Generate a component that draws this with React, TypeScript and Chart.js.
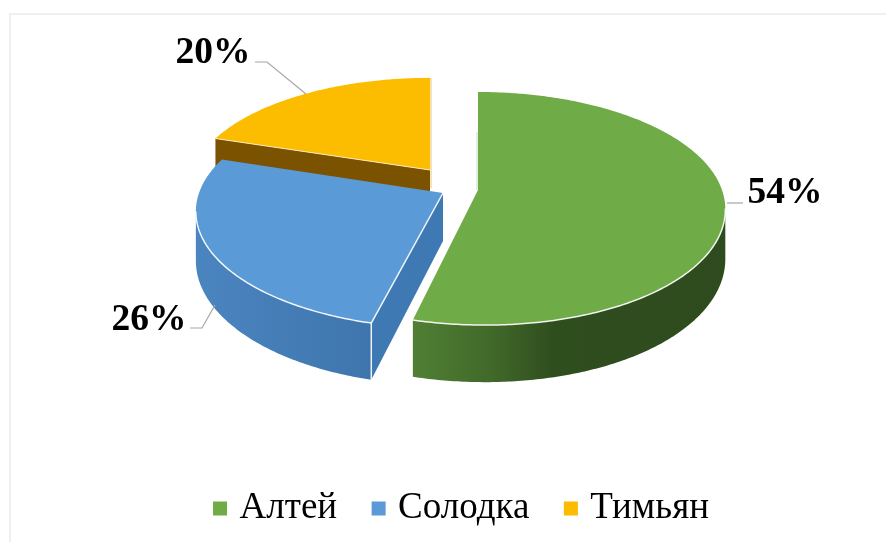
import React, { useEffect, useRef } from "react";
import { Chart, registerables } from "chart.js";

Chart.register(...registerables);

const categories = ["Алтей", "Солодка", "Тимьян"];
const shares = [54, 26, 20];
const topColors = ["#6fab47", "#5a9ad6", "#fcbc00"];

const FONT = '"Liberation Serif", "Times New Roman", serif';
const PERSPECTIVE = 0.159;
const RX = 244;
const RY = 113.6;
const DEPTH = 48;

// exploded slice placement on the page
const placement = [
  { ax: 478, ay: 190, sx: 1, sy: 1, skew: 7 },
  { ax: 443, ay: 193, sx: 1, sy: 1, skew: 0 },
  { ax: 430, ay: 170, sx: 0.97, sy: 0.94, skew: 0 },
];

const labelPlacement = [
  { x: 785, y: 203, line: [[727, 203], [743, 203]] },
  { x: 149, y: 330, line: [[190, 328], [202, 328], [215, 305]] },
  { x: 213, y: 63, line: [[255, 62], [267, 62], [306, 94]] },
];

type P = { x: number; y: number };

function project(i: number, u: number, v: number, z = 0): P {
  const p = placement[i];
  const w = 1 + PERSPECTIVE * v;
  const lean = v < 0 ? p.skew * v * v : 0;
  return {
    x: p.ax + (RX * p.sx * u) / w + lean,
    y: p.ay + (-RY * p.sy * v) / w + (z * DEPTH) / w,
  };
}

const rim = (i: number, t: number, z = 0) => project(i, Math.sin(t), Math.cos(t), z);

function trace(ctx: CanvasRenderingContext2D, pts: P[], close = true) {
  ctx.beginPath();
  pts.forEach((p, k) => (k ? ctx.lineTo(p.x, p.y) : ctx.moveTo(p.x, p.y)));
  if (close) ctx.closePath();
}

function sweep(a: number, b: number, i: number, z = 0) {
  const n = Math.max(2, Math.ceil((b - a) * 90));
  const out: P[] = [];
  for (let k = 0; k <= n; k++) out.push(rim(i, a + ((b - a) * k) / n, z));
  return out;
}

function wallStyle(ctx: CanvasRenderingContext2D, i: number): string | CanvasGradient {
  if (i === 0) {
    const g = ctx.createLinearGradient(413, 0, 725, 0);
    g.addColorStop(0, "#507f34");
    g.addColorStop(0.25, "#41692a");
    g.addColorStop(0.45, "#2f4e1e");
    g.addColorStop(1, "#2e4b1d");
    return g;
  }
  if (i === 1) {
    const g = ctx.createLinearGradient(196, 0, 372, 0);
    g.addColorStop(0, "#4b85c0");
    g.addColorStop(1, "#3e75ac");
    return g;
  }
  return "#7a5200";
}

const pie3d = {
  id: "pie3d",
  beforeDraw(chart: Chart) {
    const ctx = chart.ctx;
    ctx.save();
    ctx.strokeStyle = "#efefef";
    ctx.lineWidth = 2;
    ctx.beginPath();
    ctx.moveTo(10, 542);
    ctx.lineTo(10, 14);
    ctx.lineTo(886, 14);
    ctx.stroke();
    ctx.restore();
  },
  beforeDatasetDraw(chart: Chart) {
    const ctx = chart.ctx;
    const arcs = chart.getDatasetMeta(0).data as any[];
    const order = [2, 1, 0];
    ctx.save();
    ctx.lineJoin = "round";
    order.forEach((i) => {
      const a = arcs[i].startAngle + Math.PI / 2;
      const b = arcs[i].endAngle + Math.PI / 2;
      const apex = project(i, 0, 0);
      const apexLow = project(i, 0, 0, 1);

      // cut face that looks toward the viewer
      if (i !== 0) {
        const endTop = rim(i, a);
        const endLow = rim(i, a, 1);
        trace(ctx, [apex, endTop, endLow, apexLow]);
        ctx.fillStyle = i === 1 ? "#3f79b4" : "#7a5200";
        ctx.fill();
      }

      // outer wall: only the part of the rim facing the viewer
      const front = Math.PI - Math.acos(PERSPECTIVE);
      const s = Math.max(a, front);
      const e = Math.min(b, 2 * Math.PI - front);
      if (e > s) {
        const upper = sweep(s, e, i);
        const lower = sweep(s, e, i, 1).reverse();
        trace(ctx, [...upper, ...lower]);
        ctx.fillStyle = wallStyle(ctx, i);
        ctx.fill();
      }

      // top face
      trace(ctx, [apex, ...sweep(a, b, i)]);
      ctx.fillStyle = topColors[i];
      ctx.fill();

      // light edges
      ctx.strokeStyle = "rgba(255,255,255,0.9)";
      ctx.lineWidth = 1.5;
      if (e > s) {
        trace(ctx, sweep(s, e, i), false);
        ctx.stroke();
      }
      if (i === 1) {
        const c = rim(i, a);
        const d = rim(i, a, 1);
        trace(ctx, [apex, c, d], false);
        ctx.stroke();
      }
      if (i === 2) {
        const c = rim(i, a);
        trace(ctx, [apex, c], false);
        ctx.strokeStyle = "rgba(255,240,200,0.9)";
        ctx.lineWidth = 1;
        ctx.stroke();
        const t = rim(i, b);
        ctx.strokeStyle = "#e7c878";
        trace(ctx, [{ x: t.x + 1, y: t.y }, { x: apex.x + 1, y: apex.y + 18 }], false);
        ctx.stroke();
      }
      if (i === 0) {
        const t = rim(i, a);
        ctx.strokeStyle = "#cfd8c0";
        ctx.lineWidth = 1;
        trace(ctx, [{ x: t.x - 1, y: t.y + 40 }, { x: apex.x - 1, y: apex.y }], false);
        ctx.stroke();
      }
    });
    ctx.restore();
    return false;
  },
  afterDatasetsDraw(chart: Chart) {
    const ctx = chart.ctx;
    ctx.save();
    shares.forEach((v, i) => {
      const l = labelPlacement[i];
      ctx.strokeStyle = "#a6a6a6";
      ctx.lineWidth = 1.2;
      trace(ctx, l.line.map(([x, y]) => ({ x, y })), false);
      ctx.stroke();
      ctx.fillStyle = "#000";
      ctx.font = `bold 37.5px ${FONT}`;
      ctx.textAlign = "center";
      ctx.textBaseline = "alphabetic";
      ctx.fillText(`${v}%`, l.x, l.y);
    });
    ctx.restore();
  },
  afterDraw(chart: Chart) {
    // legend swatches sit closer to their text than the default gap
    const ctx = chart.ctx;
    const boxes = (chart.legend as any).legendHitBoxes as any[];
    ctx.save();
    boxes.forEach((h, i) => {
      ctx.fillStyle = topColors[i];
      ctx.fillRect(h.left + 6, h.top + (h.height - 14) / 2, 14, 14);
    });
    ctx.restore();
  },
};

export default function App() {
  const ref = useRef<HTMLCanvasElement>(null);
  useEffect(() => {
    const chart = new Chart(ref.current!, {
      type: "pie",
      data: {
        labels: categories,
        datasets: [{ data: shares, backgroundColor: topColors, borderWidth: 0 }],
      },
      options: {
        responsive: false,
        animation: false,
        layout: { padding: { left: 30, bottom: 5 } },
        plugins: {
          tooltip: { enabled: false },
          legend: {
            position: "bottom",
            labels: {
              boxWidth: 14,
              boxHeight: 14,
              padding: 28.5,
              color: "#1a1a1a",
              font: { family: FONT, size: 37 },
              generateLabels: (c: Chart) =>
                categories.map((text, index) => ({
                  text,
                  index,
                  fillStyle: "rgba(0,0,0,0)",
                  strokeStyle: "rgba(0,0,0,0)",
                  lineWidth: 0,
                  hidden: !c.getDataVisibility(index),
                })),
            },
          },
        },
      } as any,
      plugins: [pie3d as any],
    });
    return () => chart.destroy();
  }, []);
  return (
    <div style={{ position: "absolute", left: 0, top: 0, width: 886, height: 542, background: "#fff" }}>
      <canvas ref={ref} width={886} height={542} style={{ display: "block" }} />
    </div>
  );
}
